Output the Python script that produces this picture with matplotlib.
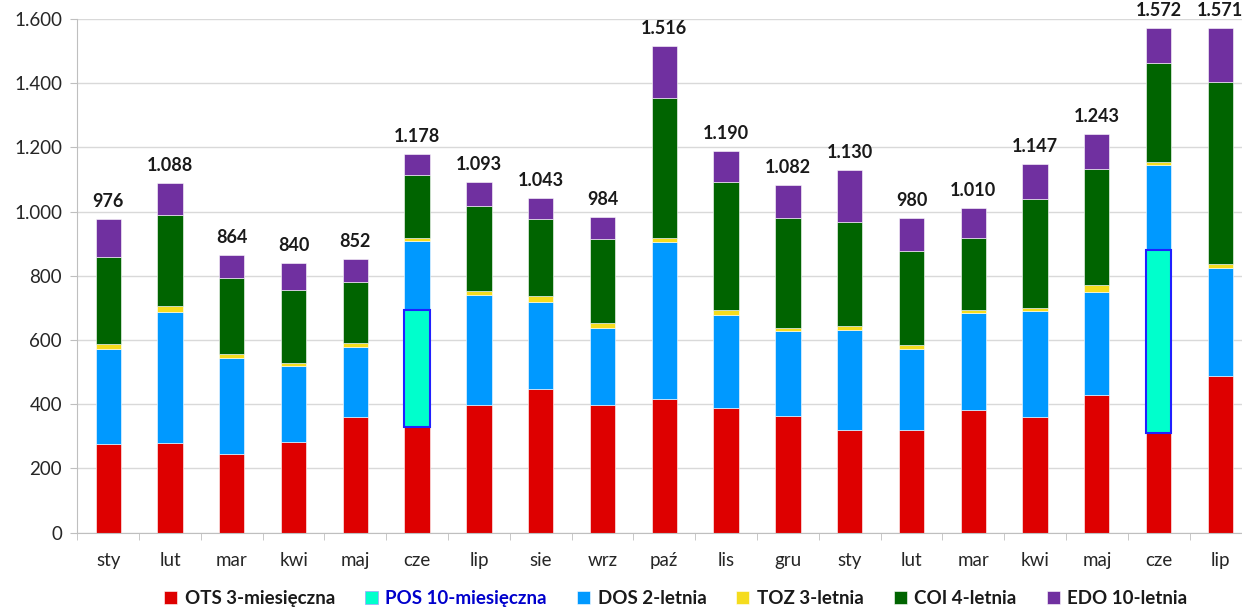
import matplotlib.pyplot as plt
import numpy as np
from matplotlib.ticker import FuncFormatter, FixedLocator

plt.rcParams['font.family'] = ['Lato', 'DejaVu Sans']

# Data (mln zł)
months = ["sty", "lut", "mar", "kwi", "maj", "cze", "lip", "sie", "wrz", "paź",
          "lis", "gru", "sty", "lut", "mar", "kwi", "maj", "cze", "lip"]
ots = [276, 280, 244, 282, 361, 330, 399, 447, 398, 416, 389, 364, 321, 321, 381, 359, 428, 310, 489]
pos = [0, 0, 0, 0, 0, 365, 0, 0, 0, 0, 0, 0, 0, 0, 0, 0, 0, 572, 0]
dos = [296, 407, 300, 238, 216, 212, 342, 270, 241, 489, 288, 263, 310, 250, 302, 330, 322, 263, 334]
toz = [15, 20, 13, 10, 14, 12, 11, 19, 15, 12, 18, 12, 13, 14, 11, 10, 21, 10, 13]
coi = [271, 282, 237, 227, 191, 195, 266, 240, 262, 438, 396, 341, 325, 291, 225, 340, 363, 307, 569]
edo = [118, 99, 70, 83, 70, 64, 75, 67, 68, 161, 99, 102, 161, 104, 91, 108, 109, 110, 166]

series = [
    ("OTS 3-miesięczna", ots, "#DE0000"),
    ("POS 10-miesięczna", pos, "#00FFCC"),
    ("DOS 2-letnia", dos, "#0099FF"),
    ("TOZ 3-letnia", toz, "#F5DC1E"),
    ("COI 4-letnia", coi, "#006400"),
    ("EDO 10-letnia", edo, "#7030A0"),
]

fig = plt.figure(figsize=(12.42, 6.09), dpi=100)
ax = fig.add_axes([77.3 / 1242, 76.3 / 609, 1174 / 1242, 513.7 / 609])

x = np.arange(len(months))
bottom = np.zeros(len(months))
handles = []
for name, vals, col in series:
    vals = np.array(vals, dtype=float)
    if name.startswith("POS"):
        mask = vals > 0
        ax.bar(x[mask], vals[mask], 0.41, bottom=bottom[mask], color=col,
               edgecolor="#2020FF", linewidth=1.5, zorder=3)
        h = ax.bar([0], [0], 0.41, color=col, edgecolor="#A0A0FF", linewidth=0.5)
    else:
        h = ax.bar(x, vals, 0.41, bottom=bottom, color=col,
                   edgecolor="white", linewidth=0.4, zorder=2)
    handles.append(h)
    bottom = bottom + vals

# totals on top
for xi, tot in zip(x, bottom):
    lbl = f"{int(tot):,}".replace(",", ".")
    ax.annotate(lbl, (xi, tot), xytext=(0, 6.5), textcoords="offset points",
                ha="center", va="bottom", fontsize=13, fontweight="bold",
                color="#1A1A1A", annotation_clip=False)

ax.set_xlim(-0.5, len(months) - 0.5)
ax.set_ylim(0, 1600)
ax.set_yticks(range(0, 1601, 200))
ax.yaxis.set_major_formatter(FuncFormatter(lambda v, p: f"{int(v):,}".replace(",", ".")))
ax.set_xticks(x)
ax.set_xticklabels(months)
ax.xaxis.set_minor_locator(FixedLocator(np.arange(-0.5, len(months), 1)))
ax.tick_params(axis="x", which="major", length=0, pad=14, labelsize=13.5, labelcolor="#262626")
ax.tick_params(axis="x", which="minor", length=5, color="#BFBFBF")
ax.tick_params(axis="y", length=5, color="#BFBFBF", labelsize=13.5, labelcolor="#262626", pad=6)

ax.grid(axis="y", color="#D9D9D9", linewidth=1, zorder=0)
ax.set_axisbelow(True)
for s in ["top", "right"]:
    ax.spines[s].set_visible(False)
for s in ["left", "bottom"]:
    ax.spines[s].set_color("#BFBFBF")

leg = fig.legend(handles, [s[0] for s in series], loc="lower center",
                 bbox_to_anchor=(0.544, -0.025), ncol=6, frameon=False,
                 handlelength=0.7, handleheight=0.7, handletextpad=0.4,
                 columnspacing=1.6, prop={"size": 13.5, "weight": "bold"})
for t in leg.get_texts():
    t.set_color("#0000CC" if t.get_text().startswith("POS") else "#1A1A1A")

fig.savefig("out.png", dpi=100)
